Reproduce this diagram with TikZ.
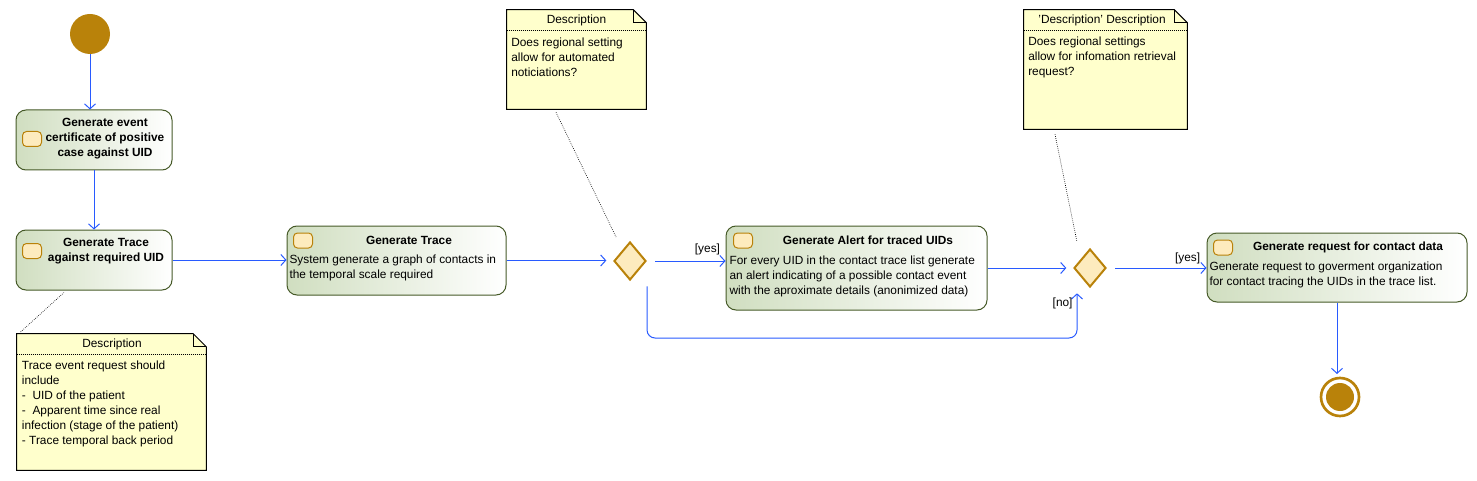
\documentclass[tikz,border=0pt]{standalone}
\usepackage{fontspec}
\setmainfont{Liberation Sans}
\usetikzlibrary{positioning, calc, fit, shapes.geometric, arrows.meta}
\definecolor{flowblue}{RGB}{40,90,255}
\definecolor{gold}{RGB}{185,130,10}
\definecolor{diafill}{RGB}{253,235,190}
\definecolor{actline}{RGB}{70,90,40}
\definecolor{actgreen}{RGB}{208,222,192}
\definecolor{notefill}{RGB}{255,255,204}
\tikzset{
  act/.style={draw=actline, line width=0.75pt, rounded corners=7.5pt, left color=actgreen, right color=white, inner sep=0pt},
  icon/.style={draw=gold, line width=0.75pt, fill=diafill, rounded corners=3pt, minimum width=14.25pt, minimum height=11.25pt, inner sep=0pt},
  choice/.style={diamond, draw=gold, line width=1.5pt, fill=diafill, minimum width=24pt, minimum height=28.5pt, inner sep=0pt},
  note/.style={draw=black, line width=0.75pt, fill=notefill},
  notelink/.style={draw=black, densely dotted, line width=0.5pt},
  flow/.style={draw=flowblue, line width=0.75pt, -{Straight Barb[length=3.75pt,width=8.25pt]}},
  txt/.style={font=\fontsize{8.9}{11.25}\selectfont, inner sep=0pt},
  title/.style={txt, font=\fontsize{8.9}{11.25}\selectfont\bfseries, align=center},
  body/.style={txt, align=left, anchor=west},
  guard/.style={txt, inner sep=2pt}
}
\begin{document}
\begin{tikzpicture}[x=0.75pt, y=-0.75pt]
  \useasboundingbox (0,0) rectangle (1477,481);
  % start / end
  \node[circle, fill=gold, minimum size=30pt, inner sep=0pt] (start) at (90,34) {};
  \node[circle, draw=gold, line width=2pt, minimum size=28.5pt, inner sep=0pt] (final) at (1340,397) {};
  \fill[gold] (final) circle (10.5pt);
  % actions
  \node[act, fit={(16,110) (172,170)}] (b1) {};
  \node[icon] (b1i) at (32,139) {};
  \node[title] (b1t) at (105,139) {Generate event\\certificate of positive\\case against UID};
  \node[act, fit={(16,230) (172,290)}] (b2) {};
  \node[icon] (b2i) at (32,251) {};
  \node[title] (b2t) at (106,251) {Generate Trace\\against required UID};
  \node[act, fit={(287,226) (506,295)}] (b3) {};
  \node[icon] (b3i) at (303,240.5) {};
  \node[title] (b3t) at (409,240.7) {Generate Trace};
  \node[body] (b3b) at (289.3,268.3) {System generate a graph of contacts in\\the temporal scale required};
  \node[act, fit={(726,226) (987,310)}] (b4) {};
  \node[icon] (b4i) at (743,240.5) {};
  \node[title] (b4t) at (868,240.7) {Generate Alert for traced UIDs};
  \node[body] (b4b) at (729.3,276) {For every UID in the contact trace list generate\\an alert indicating of a possible contact event\\with the aproximate details (anonimized data)};
  \node[act, fit={(1207,233) (1467,302)}] (b5) {};
  \node[icon] (b5i) at (1223,247.5) {};
  \node[title] (b5t) at (1348,247.7) {Generate request for contact data};
  \node[body] (b5b) at (1209.3,275.2) {Generate request to goverment organization\\for contact tracing the UIDs in the trace list.};
  % decisions
  \node[choice] (d1) at (630,261) {};
  \node[choice] (d2) at (1090,268) {};
  \coordinate (nobend) at (1077,338);
  % notes
  \node[fit={(507,10) (646,109)}, inner sep=0pt] (n1) {};
  \node[fit={(1024,10) (1187,129)}, inner sep=0pt] (n2) {};
  \node[fit={(17,334) (206,470)}, inner sep=0pt] (n3) {};
  \foreach \n in {n1,n2,n3} {
    \draw[note] (\n.south west) -- (\n.north west) -- ($(\n.north east)+(-13,0)$) -- ($(\n.north east)+(0,13)$) -- (\n.south east) -- cycle;
    \draw[line width=0.5pt] ($(\n.north east)+(-13,0)$) -- ++(0,13) -- ++(13,0);
    \draw[densely dotted, line width=0.5pt] ($(\n.north west)+(0,20.7)$) -- ($(\n.north east)+(0,20.7)$);
  }
  \node[txt] (n1t) at (576.5,20.7) {Description};
  \node[body] (n1b) at (511,57.7) {Does regional setting\\allow for automated\\noticiations?};
  \node[txt] (n2t) at (1102,20.5) {'Description' Description};
  \node[body] (n2b) at (1028,57.5) {Does regional settings\\allow for infomation retrieval\\request?};
  \node[txt] (n3t) at (112,344.3) {Description};
  \node[body] (n3b) at (21.7,403.5) {Trace event request should\\include\\-\ \ UID of the patient\\-\ \ Apparent time since real\\infection (stage of the patient)\\- Trace temporal back period};
  % flows
  \draw[flow] (start) -- (start |- b1.north);
  \draw[flow] (b1) -- (b2);
  \draw[flow] (b2.east) -- (b2.east -| b3.west);
  \draw[flow, shorten >=5pt] (b3.east) -- (b3.east -| d1.west);
  \draw[flow, shorten <=6pt] (d1.east) -- (d1.east -| b4.west) node[guard, pos=0.77, above=2pt] (yes1) {[yes]};
  \draw[flow, shorten >=5pt] (b4.east) -- (b4.east -| d2.west);
  \draw[flow, shorten <=6pt] (d2.east) -- (d2.east -| b5.west) node[guard, pos=0.81, above=1pt] (yes2) {[yes]};
  \draw[flow, rounded corners=6pt, shorten <=4pt, shorten >=4pt] (d1.south -| d1.east) |- (nobend) -- node[guard, pos=0.7, left=1pt] (no1) {[no]} (nobend |- d2.south);
  \draw[flow, shorten >=2pt] (b5.south) -- (b5.south |- final.north);
  % note links
  \draw[notelink] ($(b2.south)+(-30,2)$) -- ($(n3.north west)+(3,-1)$);
  \draw[notelink] ($(n1.south)+(-20.5,3)$) -- ($(d1.north)+(-14,-4)$);
  \draw[notelink] ($(n2.south)+(-50.5,5)$) -- ($(d2.north)+(-13,-6)$);
\end{tikzpicture}
\end{document}
